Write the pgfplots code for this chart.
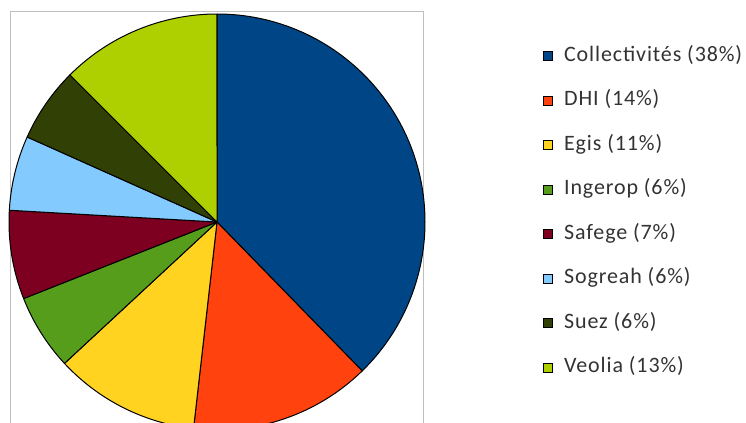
\documentclass[border=0pt]{standalone}
\usepackage{pgfplots}
\usepackage{pgfplotstable}
\usepackage{fontspec}
\pgfplotsset{compat=1.18}
\newfontfamily\legfont{Carlito}[LetterSpace=4]

\definecolor{cColl}{HTML}{004586}
\definecolor{cDHI}{HTML}{FF420E}
\definecolor{cEgis}{HTML}{FFD320}
\definecolor{cIng}{HTML}{579D1C}
\definecolor{cSaf}{HTML}{7E0021}
\definecolor{cSog}{HTML}{83CAFF}
\definecolor{cSuez}{HTML}{314004}
\definecolor{cVeo}{HTML}{AECF00}

% shares in percent, clockwise from 12 o'clock
\pgfplotstableread{
name          value colour
Collectivites 37.7  cColl
DHI           14.1  cDHI
Egis          11.3  cEgis
Ingerop        5.9  cIng
Safege         6.9  cSaf
Sogreah        5.8  cSog
Suez           5.8  cSuez
Veolia        12.5  cVeo
}\piedata

\begin{document}
\begin{tikzpicture}
% 1px = 0.5pt, picture is 746 x 423 px
\useasboundingbox (0,0) rectangle (373pt,-211.5pt);
\clip (0,0) rectangle (373pt,-211.5pt);
\begin{axis}[
    at={(108.5pt,-111pt)}, anchor=center,
    x=104pt, y=104pt,
    xmin=-0.995, xmax=0.995,
    ymin=-1.01, ymax=1.01,
    xtick=\empty, ytick=\empty,
    axis line style={draw=black!25, line width=0.5pt},
    clip=false,
    legend cell align=left,
    legend image code/.code={
        \draw[#1, draw=black, line width=0.4pt] (0pt,-2.25pt) rectangle (4.5pt,2.25pt);
    },
    legend style={
        at={(1.2874,0.9214)}, anchor=north west,
        draw=none, fill=none, inner sep=0pt,
        font=\legfont\fontsize{11pt}{13pt}\selectfont,
        text=black!80,
        row sep=11.25pt,
        nodes={inner sep=0pt, text height=8pt, text depth=3pt},
        /tikz/every odd column/.append style={column sep=5.5pt},
    },
]
\pgfplotstablegetrowsof{\piedata}
\pgfmathtruncatemacro\nrows{\pgfplotsretval-1}
\def\cum{0}
\pgfplotsforeachungrouped \i in {0,...,\nrows}{
    \pgfplotstablegetelem{\i}{value}\of\piedata \let\pval\pgfplotsretval
    \pgfplotstablegetelem{\i}{colour}\of\piedata \let\pcol\pgfplotsretval
    \pgfmathsetmacro\aa{90-3.6*\cum}
    \pgfmathsetmacro\bb{90-3.6*(\cum+\pval)}
    \pgfmathsetmacro\xa{cos(\aa)}
    \pgfmathsetmacro\ya{sin(\aa)}
    \edef\temp{\noexpand\filldraw[fill=\pcol, draw=black, line width=0.5pt, line join=round]
        (axis cs:0,0) -- (axis cs:\xa,\ya) arc[start angle=\aa, end angle=\bb, radius=104pt] -- cycle;}
    \temp
    \pgfmathsetmacro\cum{\cum+\pval}
}
\addlegendimage{fill=cColl}\addlegendentry{Collectivités (38\%)}
\addlegendimage{fill=cDHI}\addlegendentry{DHI (14\%)}
\addlegendimage{fill=cEgis}\addlegendentry{Egis (11\%)}
\addlegendimage{fill=cIng}\addlegendentry{Ingerop (6\%)}
\addlegendimage{fill=cSaf}\addlegendentry{Safege (7\%)}
\addlegendimage{fill=cSog}\addlegendentry{Sogreah (6\%)}
\addlegendimage{fill=cSuez}\addlegendentry{Suez (6\%)}
\addlegendimage{fill=cVeo}\addlegendentry{Veolia (13\%)}
\end{axis}
\end{tikzpicture}
\end{document}
